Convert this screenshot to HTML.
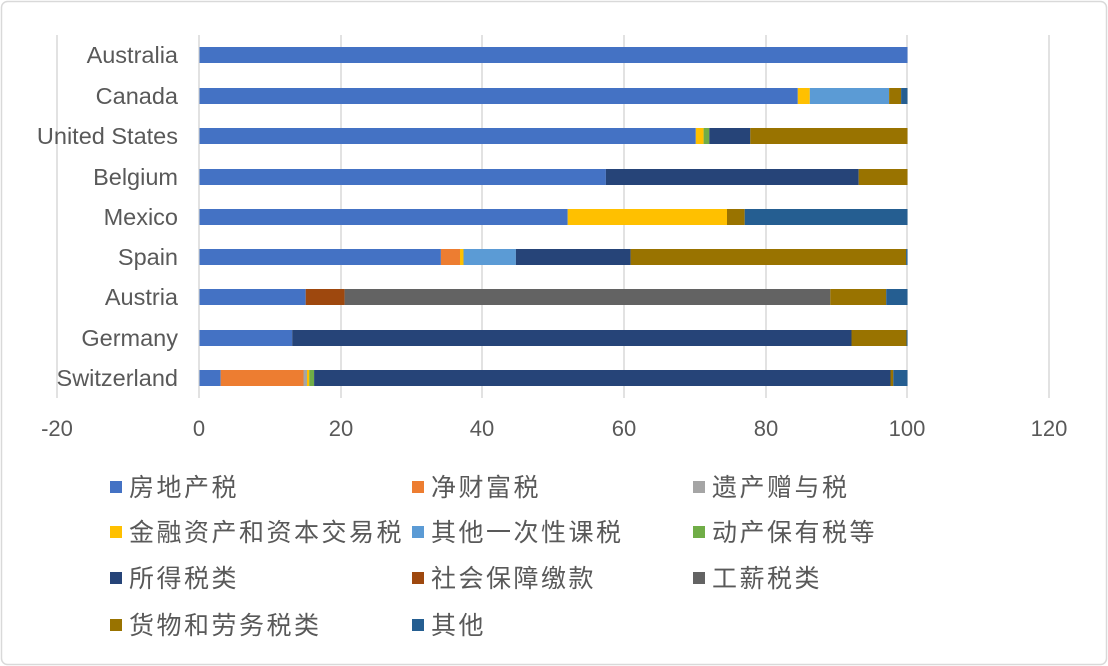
<!DOCTYPE html><html><head><meta charset="utf-8"><style>body{margin:0;background:#fff}svg{display:block}text{font-family:"Liberation Sans","Noto Sans CJK SC",sans-serif;fill:#595959}</style></head><body>
<svg width="1108" height="666" xmlns="http://www.w3.org/2000/svg">
<rect x="1.5" y="1.5" width="1105" height="663" rx="6" fill="#fff" stroke="#d9d9d9" stroke-width="1.5"/>
<g stroke="#d9d9d9" stroke-width="1.5">
<line x1="57" y1="35" x2="57" y2="398"/><line x1="199" y1="35" x2="199" y2="398"/><line x1="341" y1="35" x2="341" y2="398"/><line x1="482" y1="35" x2="482" y2="398"/><line x1="624" y1="35" x2="624" y2="398"/><line x1="766" y1="35" x2="766" y2="398"/><line x1="907" y1="35" x2="907" y2="398"/><line x1="1049" y1="35" x2="1049" y2="398"/>
</g>
<g font-size="22" text-anchor="middle">
<text x="57" y="436">-20</text><text x="199" y="436">0</text><text x="341" y="436">20</text><text x="482" y="436">40</text><text x="624" y="436">60</text><text x="766" y="436">80</text><text x="907" y="436">100</text><text x="1049" y="436">120</text>
</g>
<g font-size="23.5" text-anchor="end">
<text x="178" y="63">Australia</text><text x="178" y="104">Canada</text><text x="178" y="144">United States</text><text x="178" y="185">Belgium</text><text x="178" y="225">Mexico</text><text x="178" y="265">Spain</text><text x="178" y="305">Austria</text><text x="178" y="346">Germany</text><text x="178" y="386">Switzerland</text>
</g>
<g height="16">
<rect x="199.5" y="47" width="708" height="16" fill="#4472c4"/>

<rect x="199.5" y="88" width="598.3" height="16" fill="#4472c4"/>
<rect x="797.8" y="88" width="12" height="16" fill="#ffc000"/>
<rect x="809.8" y="88" width="79.3" height="16" fill="#5b9bd5"/>
<rect x="889.1" y="88" width="12" height="16" fill="#997300"/>
<rect x="901.1" y="88" width="6.4" height="16" fill="#255e91"/>

<rect x="199.5" y="128" width="496.3" height="16" fill="#4472c4"/>
<rect x="695.8" y="128" width="7.8" height="16" fill="#ffc000"/>
<rect x="703.6" y="128" width="5.7" height="16" fill="#70ad47"/>
<rect x="709.3" y="128" width="41" height="16" fill="#264478"/>
<rect x="750.3" y="128" width="157.2" height="16" fill="#997300"/>

<rect x="199.5" y="169" width="406.4" height="16" fill="#4472c4"/>
<rect x="605.9" y="169" width="252.8" height="16" fill="#264478"/>
<rect x="858.7" y="169" width="48.8" height="16" fill="#997300"/>

<rect x="199.5" y="209" width="368.2" height="16" fill="#4472c4"/>
<rect x="567.7" y="209" width="159.3" height="16" fill="#ffc000"/>
<rect x="727" y="209" width="17.7" height="16" fill="#997300"/>
<rect x="744.7" y="209" width="162.8" height="16" fill="#255e91"/>

<rect x="199.5" y="249" width="241.4" height="16" fill="#4472c4"/>
<rect x="440.9" y="249" width="19.1" height="16" fill="#ed7d31"/>
<rect x="460" y="249" width="3.5" height="16" fill="#ffc000"/>
<rect x="463.5" y="249" width="52.4" height="16" fill="#5b9bd5"/>
<rect x="515.9" y="249" width="114.7" height="16" fill="#264478"/>
<rect x="630.6" y="249" width="275.5" height="16" fill="#997300"/>
<rect x="906.1" y="249" width="1.4" height="16" fill="#255e91"/>

<rect x="199.5" y="289" width="106.2" height="16" fill="#4472c4"/>
<rect x="305.7" y="289" width="38.9" height="16" fill="#9e480e"/>
<rect x="344.6" y="289" width="485.7" height="16" fill="#636363"/>
<rect x="830.3" y="289" width="55.9" height="16" fill="#997300"/>
<rect x="886.2" y="289" width="21.3" height="16" fill="#255e91"/>

<rect x="199.5" y="330" width="92.7" height="16" fill="#4472c4"/>
<rect x="292.2" y="330" width="559.3" height="16" fill="#264478"/>
<rect x="851.5" y="330" width="55" height="16" fill="#997300"/>
<rect x="906.5" y="330" width="1" height="16" fill="#255e91"/>

<rect x="199.5" y="370" width="21.2" height="16" fill="#4472c4"/>
<rect x="220.7" y="370" width="82.8" height="16" fill="#ed7d31"/>
<rect x="303.5" y="370" width="3.5" height="16" fill="#a5a5a5"/>
<rect x="307" y="370" width="2.2" height="16" fill="#ffc000"/>
<rect x="309.2" y="370" width="4.9" height="16" fill="#70ad47"/>
<rect x="314.1" y="370" width="576.4" height="16" fill="#264478"/>
<rect x="890.5" y="370" width="2.8" height="16" fill="#997300"/>
<rect x="893.3" y="370" width="14.2" height="16" fill="#255e91"/>
</g>
<g font-size="25" letter-spacing="2.5">
<rect x="110" y="481" width="12" height="12" fill="#4472c4"/><text x="129" y="496">房地产税</text>
<rect x="412" y="481" width="12" height="12" fill="#ed7d31"/><text x="431" y="496">净财富税</text>
<rect x="693" y="481" width="12" height="12" fill="#a5a5a5"/><text x="712" y="496">遗产赠与税</text>
<rect x="110" y="526" width="12" height="12" fill="#ffc000"/><text x="129" y="541">金融资产和资本交易税</text>
<rect x="412" y="526" width="12" height="12" fill="#5b9bd5"/><text x="431" y="541">其他一次性课税</text>
<rect x="693" y="526" width="12" height="12" fill="#70ad47"/><text x="712" y="541">动产保有税等</text>
<rect x="110" y="572" width="12" height="12" fill="#264478"/><text x="129" y="587">所得税类</text>
<rect x="412" y="572" width="12" height="12" fill="#9e480e"/><text x="431" y="587">社会保障缴款</text>
<rect x="693" y="572" width="12" height="12" fill="#636363"/><text x="712" y="587">工薪税类</text>
<rect x="110" y="619" width="12" height="12" fill="#997300"/><text x="129" y="634">货物和劳务税类</text>
<rect x="412" y="619" width="12" height="12" fill="#255e91"/><text x="431" y="634">其他</text>
</g>
</svg></body></html>
